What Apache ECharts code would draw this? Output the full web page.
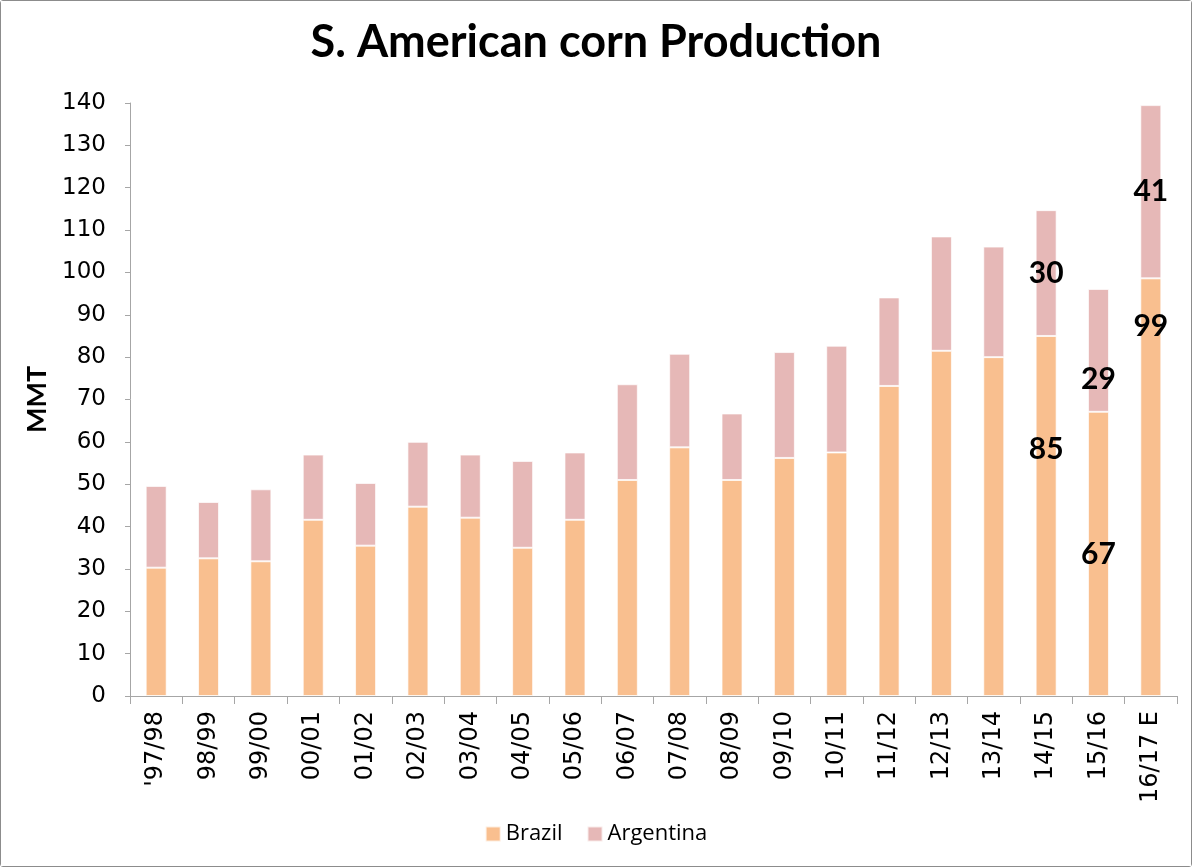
<!DOCTYPE html>
<html>
<head>
<meta charset="utf-8">
<script src="https://cdn.jsdelivr.net/npm/echarts@6/dist/echarts.min.js"></script>
<style>
html,body{margin:0;padding:0;background:#fff;}
#chart{position:absolute;left:0;top:0;width:1190px;height:865px;border:1px solid #8c8c8c;border-radius:3px;}
</style>
</head>
<body>
<div id="chart"></div>
<script>
const categories = ["'97/98","98/99","99/00","00/01","01/02","02/03","03/04","04/05","05/06","06/07","07/08","08/09","09/10","10/11","11/12","12/13","13/14","14/15","15/16","16/17 E"];
const brazil = [30.3, 32.5, 31.8, 41.6, 35.5, 44.7, 42.1, 35.0, 41.6, 51.0, 58.7, 51.0, 56.2, 57.5, 73.2, 81.5, 80.0, 85.0, 67.1, 98.6];
const argentina = [19.3, 13.3, 17.0, 15.4, 14.8, 15.3, 14.9, 20.5, 15.9, 22.6, 22.1, 15.7, 25.0, 25.2, 20.9, 27.0, 26.1, 29.7, 29.0, 40.9];
const yTicks = [0, 10, 20, 30, 40, 50, 60, 70, 80, 90, 100, 110, 120, 130, 140];

// which points get a value label, and their vertical nudge (px)
const brazilLabelOffsets = {17: -67, 18: 0, 19: -161};
const argentinaLabelOffsets = {17: 0, 18: 29, 19: 0};

const labelStyle = {
  show: true, position: 'inside', color: '#000',
  fontFamily: 'Lato', fontWeight: 'bold', fontSize: 30
};
function build(values, offsets) {
  return values.map((v, i) => {
    if (offsets[i] === undefined) return v;
    return {
      value: v,
      label: Object.assign({}, labelStyle, {
        offset: [0, offsets[i]],
        formatter: String(Math.round(v))
      })
    };
  });
}

const chart = echarts.init(document.getElementById('chart'));
chart.setOption({
  animation: false,
  backgroundColor: '#fff',
  title: {
    text: 'S. American corn Production',
    left: 'center', top: 14,
    textStyle: {fontFamily: 'Lato', fontWeight: 'bold', fontSize: 45, color: '#000'}
  },
  legend: {
    bottom: 16, left: 'center',
    itemWidth: 15, itemHeight: 15, itemGap: 24,
    icon: 'rect',
    textStyle: {fontFamily: 'Open Sans', fontSize: 22, color: '#000'},
    data: ['Brazil', 'Argentina']
  },
  grid: {left: 129, right: 14, top: 102, bottom: 170},
  xAxis: {
    type: 'category',
    data: categories,
    axisLine: {lineStyle: {color: '#A6A6A6', width: 1}},
    axisTick: {show: true, length: 8, alignWithLabel: false, lineStyle: {color: '#A6A6A6'}},
    axisLabel: {rotate: 90, margin: 15, fontFamily: 'DejaVu Sans', fontSize: 24, color: '#000', interval: 0}
  },
  yAxis: {
    type: 'value',
    min: yTicks[0], max: yTicks[yTicks.length - 1], interval: 10,
    name: 'MMT', nameLocation: 'middle', nameGap: 76,
    nameTextStyle: {fontFamily: 'Lato', fontWeight: 'bold', fontSize: 27, color: '#000'},
    axisLine: {show: true, lineStyle: {color: '#A6A6A6', width: 1}},
    axisTick: {show: true, length: 5, lineStyle: {color: '#A6A6A6'}},
    splitLine: {show: false},
    axisLabel: {margin: 24, fontFamily: 'DejaVu Sans', fontSize: 23, color: '#000'}
  },
  series: [
    {
      name: 'Brazil', type: 'bar', stack: 'total', barWidth: 21,
      itemStyle: {color: '#F9BF8F', borderColor: 'rgba(255,255,255,0.7)', borderWidth: 1},
      data: build(brazil, brazilLabelOffsets)
    },
    {
      name: 'Argentina', type: 'bar', stack: 'total', barWidth: 21,
      itemStyle: {color: '#E6B8B7', borderColor: 'rgba(255,255,255,0.7)', borderWidth: 1},
      data: build(argentina, argentinaLabelOffsets)
    }
  ]
});
</script>
</body>
</html>
